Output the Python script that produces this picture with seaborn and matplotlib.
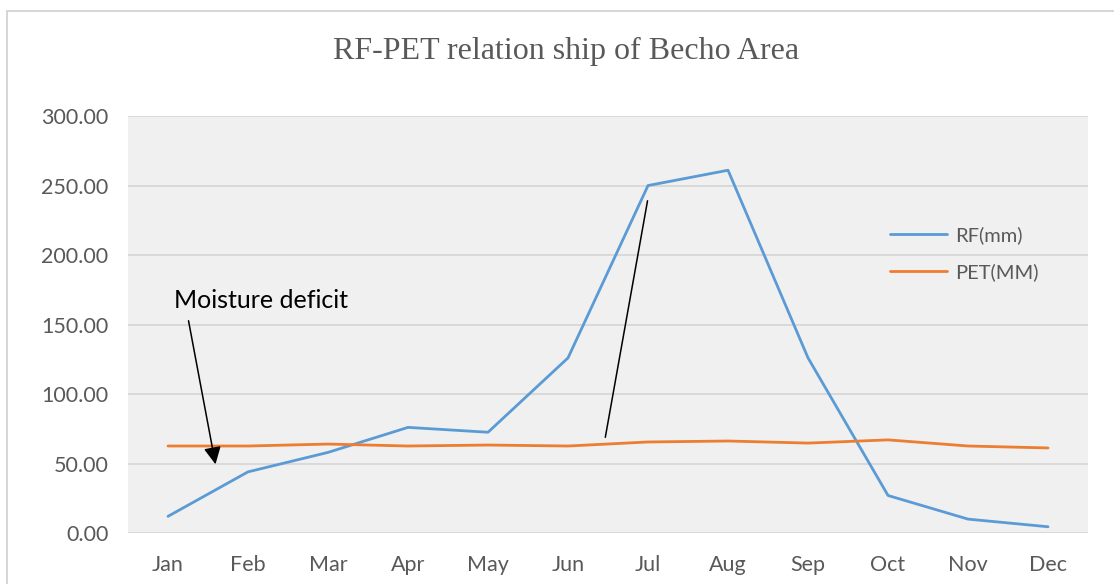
import pandas as pd
import matplotlib.pyplot as plt
import seaborn as sns
from matplotlib.patches import Rectangle

months = ['Jan', 'Feb', 'Mar', 'Apr', 'May', 'Jun', 'Jul', 'Aug', 'Sep', 'Oct', 'Nov', 'Dec']
rf_mm = [12, 44, 58, 76, 72.5, 126, 250, 261, 126, 27, 10, 4.5]
pet_mm = [62.6, 62.6, 64, 62.6, 63.3, 62.6, 65.5, 66.2, 64.7, 67, 62.6, 61.2]
series_names = ['RF(mm)', 'PET(MM)']
y_ticks = [0, 50, 100, 150, 200, 250, 300]

df = pd.DataFrame({
    'Month': months * 2,
    'Value': rf_mm + pet_mm,
    'Series': [series_names[0]] * 12 + [series_names[1]] * 12,
})

sns.set_style("white")
plt.rcParams['font.family'] = ['Lato', 'DejaVu Sans']

fig = plt.figure(figsize=(11.14, 5.84), dpi=100)
ax = fig.add_axes([0.1149, 0.0873, 0.8618, 0.7140])
ax.set_facecolor('#f0f0f0')

# excel-style chart border (top and left only visible)
fig.add_artist(Rectangle((7 / 1114, -0.1), 1.2, 1.1 - 11 / 584, transform=fig.transFigure,
                         fill=False, edgecolor='#d0d0d0', linewidth=1.2))

sns.lineplot(data=df, x='Month', y='Value', hue='Series',
             palette=['#5b9bd5', '#ed7d31'], linewidth=2.0, ax=ax, sort=False)

ax.set_xlim(-0.5, 11.5)
ax.set_ylim(0, 300)
ax.set_yticks(y_ticks)
ax.set_yticklabels([f"{v:.2f}" for v in y_ticks])
ax.grid(axis='y', color='#d9d9d9', linewidth=1.4)
ax.set_axisbelow(True)
for s in ax.spines.values():
    s.set_visible(False)
ax.tick_params(axis='both', length=0, labelsize=15.5, labelcolor='#595959')
ax.tick_params(axis='x', pad=16)
ax.tick_params(axis='y', pad=14)
ax.set_xlabel('')
ax.set_ylabel('')

ax.legend(loc='upper left', bbox_to_anchor=(0.775, 0.78), frameon=False,
          fontsize=14.5, labelcolor='#595959', handlelength=2.8, handletextpad=0.45,
          labelspacing=0.95)

fig.text(0.508, 0.912, 'RF-PET relation ship of Becho Area', ha='center', va='center',
         fontsize=23, color='#595959', family='Liberation Serif')

ax.text(0.075, 167.6, 'Moisture deficit', fontsize=18, color='black', va='center', ha='left')
ax.annotate('', xy=(0.6, 47.5), xytext=(0.25, 154.7),
            arrowprops=dict(arrowstyle='-|>', color='black', lw=1.1, mutation_scale=26))
ax.annotate('', xy=(5.46, 66.9), xytext=(6.0, 241),
            arrowprops=dict(arrowstyle='-', color='black', lw=1.1))

plt.savefig('out.png', dpi=100, facecolor='white')
